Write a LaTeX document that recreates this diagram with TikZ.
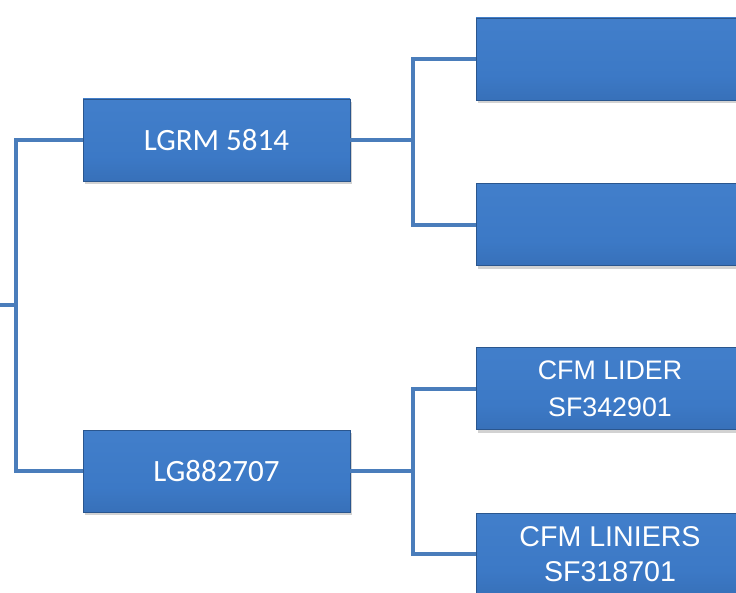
\documentclass[tikz,border=0pt]{standalone}
\usepackage{fontspec}
\newfontfamily\calibrifont{Carlito}
\newfontfamily\arialfont{Liberation Sans}
\usetikzlibrary{positioning,shadows}
\definecolor{boxTop}{HTML}{6AA6EA}
\definecolor{boxMid}{HTML}{3C79C6}
\definecolor{boxBot}{HTML}{2B5A98}
\definecolor{boxEdge}{HTML}{2A568E}
\definecolor{lineBlue}{HTML}{4A7DBB}
\pgfdeclareverticalshading{bevel}{100bp}{color(0bp)=(boxBot); color(8bp)=(boxBot!60!boxMid); color(40bp)=(boxMid); color(82bp)=(boxMid!85!boxTop); color(92bp)=(boxTop); color(100bp)=(boxTop)}
\tikzstyle{recNode} = [rectangle, minimum width=267pt, minimum height=82pt, text centered, draw=boxEdge, line width=0.8pt, shading=bevel, text=white, drop shadow={shadow xshift=1.5pt, shadow yshift=-3pt, opacity=0.35}]
\tikzstyle{recNodeL} = [recNode, font=\calibrifont\fontsize{31}{37}\selectfont]
\tikzstyle{recNodeR} = [recNode, minimum width=268pt, align=center, font=\arialfont\fontsize{27.5}{36}\selectfont]
\tikzstyle{link} = [draw=lineBlue, line width=4pt]

\begin{document}
\begin{tikzpicture}[x=1pt,y=1pt]
    \useasboundingbox (0,0) rectangle (736,-593);
    \fill[white] (0,0) rectangle (736,-593);

    \node (lgrm) [recNodeL] at (216.5,-140) {LGRM 5814};
    \node (lg) [recNodeL] at (216.5,-471) {LG882707};
    \node (emptyA) [recNodeR] at (610,-59) {};
    \node (emptyB) [recNodeR, below=83pt of emptyA] {};
    \node (lider) [recNodeR, font=\arialfont\fontsize{26.8}{37}\selectfont] at (610,-388.5) {CFM LIDER\\SF342901};
    \node (liniers) [recNodeR, below=83pt of lider, font=\arialfont\fontsize{28.6}{35}\selectfont] {CFM LINIERS\\SF318701};

    \coordinate (root) at (0,-305);
    \coordinate (trunk) at (16,-305);
    \coordinate (forkA) at (413,-140);
    \coordinate (forkB) at (413,-471);

    % left bracket
    \draw [link] (root) -- (trunk);
    \draw [link] (lgrm.west) -| (trunk) |- (lg.west);

    % right brackets
    \draw [link] (lgrm.east) -- (forkA);
    \draw [link] (emptyA.west) -| (forkA) |- (emptyB.west);
    \draw [link] (lg.east) -- (forkB);
    \draw [link] (lider.west) -| (forkB) |- (liniers.west);

\end{tikzpicture}
\end{document}
